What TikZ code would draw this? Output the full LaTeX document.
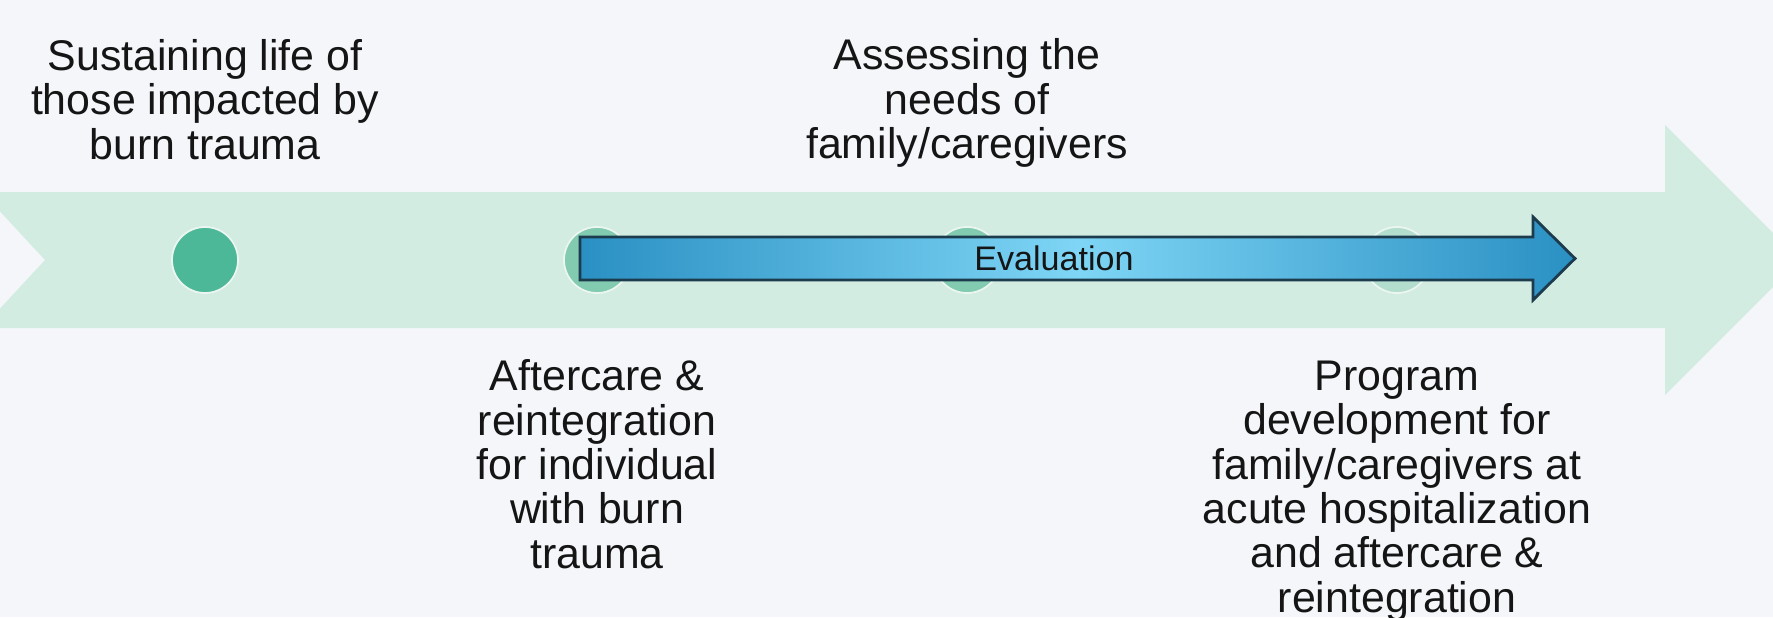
\documentclass[tikz,border=0pt]{standalone}
\usepackage{fontspec}
\setmainfont{Liberation Sans}
\usepackage{tikz}
\usetikzlibrary{positioning}
\definecolor{bgcol}{HTML}{F4F6FA}
\definecolor{bandcol}{HTML}{D2ECE2}
\definecolor{dotdark}{HTML}{4DB898}
\definecolor{dotmid}{HTML}{82CBB0}
\definecolor{dotlight}{HTML}{B3DECE}
\definecolor{evaldark}{HTML}{2A90C3}
\definecolor{evallight}{HTML}{7ED5F5}
\definecolor{evalline}{HTML}{1C3B4C}
\definecolor{textcol}{HTML}{151515}
\tikzset{basic/.style={inner sep=0pt,align=center,text=textcol,
                       font=\fontsize{12.2}{12.65}\selectfont}}
\tikzset{stage/.style={basic}}
\tikzset{milestone/.style={circle,minimum size=6.6mm,inner sep=0pt,
                           draw=white!55!bandcol,line width=0.5pt}}
\tikzset{evalarrow/.style={draw=evalline,line width=0.8pt,
                           left color=evaldark,right color=evaldark,
                           middle color=evallight}}

\begin{document}
\begin{tikzpicture}
    \useasboundingbox (0,0) rectangle (17.73,6.17);
    \fill[bgcol] (0,0) rectangle (17.73,6.17);
    % Timeline band with notched tail and big head
    \fill[bandcol] (-0.18,4.25) -- (16.65,4.25) -- (16.65,4.92)
        -- (18.0,3.57) -- (16.65,2.22) -- (16.65,2.89)
        -- (-0.18,2.89) -- (0.45,3.57) -- cycle;
    % Milestones on the band
    \node[milestone,fill=dotdark]  (dot1) at (2.05,3.57) {};
    \node[milestone,fill=dotmid]   (dot2) at (5.97,3.57) {};
    \node[milestone,fill=dotmid]   (dot3) at (9.67,3.57) {};
    \node[milestone,fill=dotlight] (dot4) at (13.97,3.57) {};
    % Evaluation arrow over the later milestones
    \path[evalarrow] (5.80,3.80) -- (15.33,3.80) -- (15.33,4.00)
        -- (15.75,3.585) -- (15.33,3.17) -- (15.33,3.37)
        -- (5.80,3.37) -- cycle;
    \node[basic,font=\fontsize{9.7}{11}\selectfont] (eval) at (10.54,3.59) {Evaluation};
    % Labels above and below the milestones
    \node[stage,above=0.66cm of dot1] (sustain)
        {Sustaining life of\\those impacted by\\burn trauma};
    \node[stage,above=0.58cm of dot3] (assess)
        {Assessing the\\needs of\\family/caregivers};
    \node[stage,below=0.65cm of dot2] (aftercare)
        {Aftercare \&\\reintegration\\for individual\\with burn\\trauma};
    \node[stage,below=0.66cm of dot4] (program)
        {Program\\development for\\family/caregivers at\\acute hospitalization\\and aftercare \&\\reintegration};
\end{tikzpicture}
\end{document}
